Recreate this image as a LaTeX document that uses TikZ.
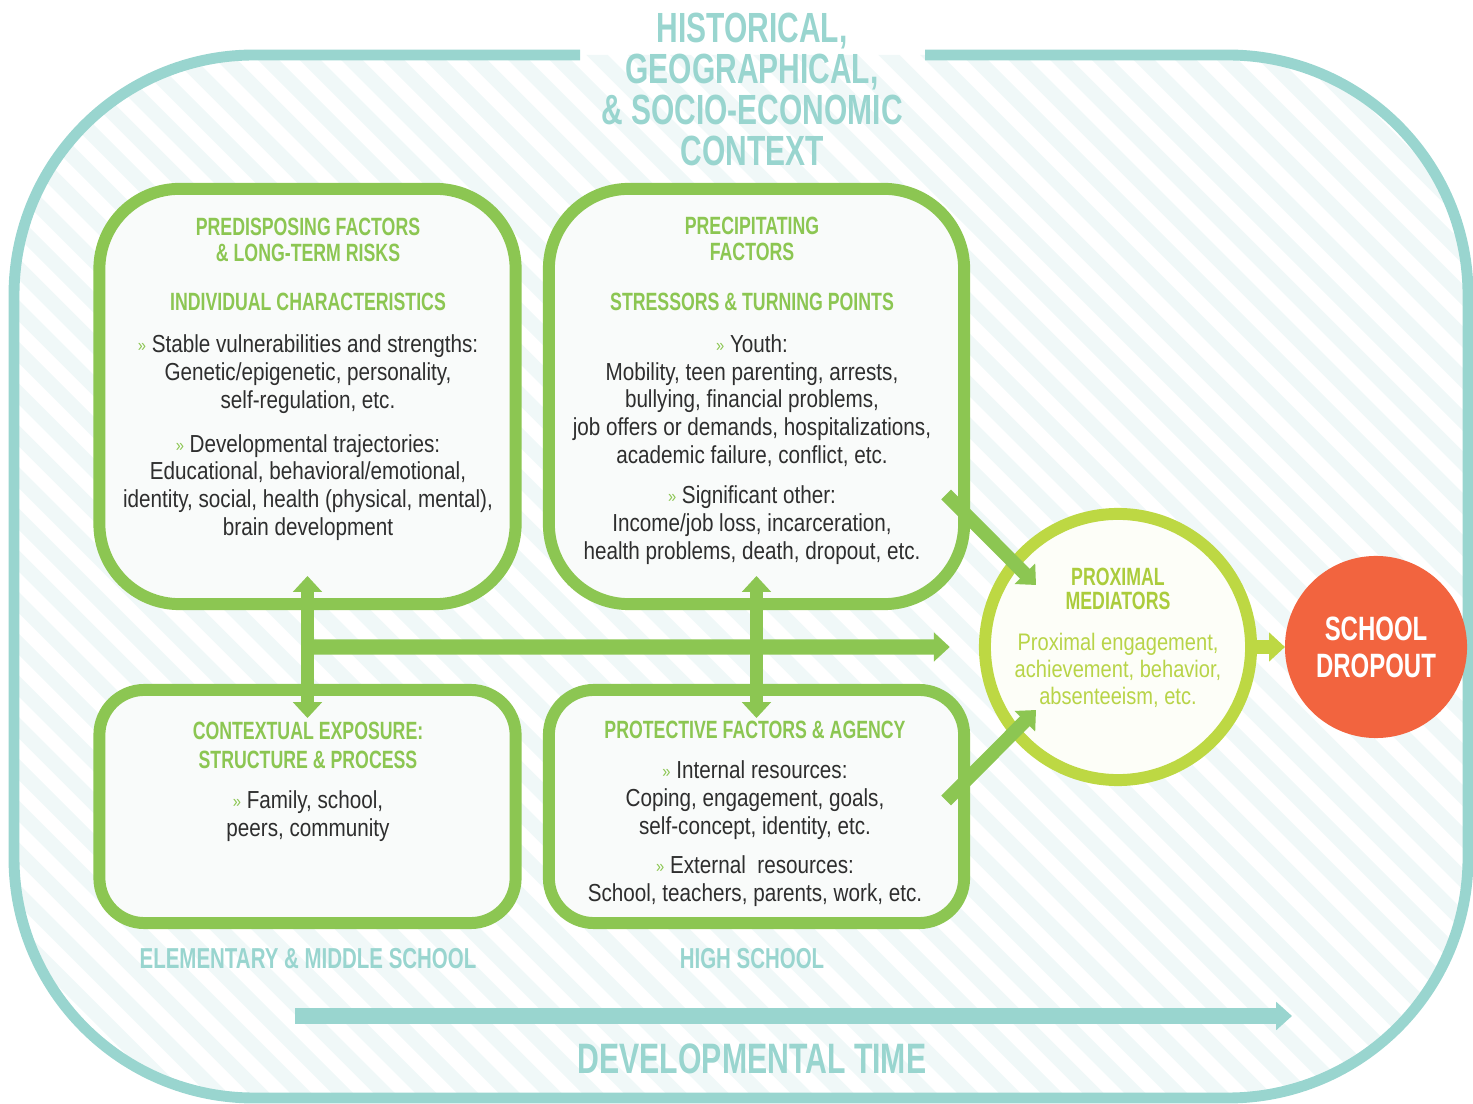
\documentclass[tikz,border=0pt]{standalone}
\usepackage{fontspec}
\setmainfont{Liberation Sans}[FakeStretch=0.84]
\newfontfamily\headfont{Liberation Sans}[FakeStretch=0.71]
\usetikzlibrary{arrows.meta,calc}
\definecolor{ctxteal}{HTML}{99D5CF}
\definecolor{stripe}{HTML}{F0F8F8}
\definecolor{boxgreen}{HTML}{8CC652}
\definecolor{boxfill}{HTML}{F9FBFA}
\definecolor{limering}{HTML}{BDD843}
\definecolor{limehead}{HTML}{ABCC3C}
\definecolor{limetext}{HTML}{B8D448}
\definecolor{proxfill}{HTML}{FDFEF8}
\definecolor{dropred}{HTML}{F2643F}
\definecolor{bodygray}{HTML}{2E2E2E}
\newcommand{\chev}{{\color{boxgreen}\fontsize{5}{5}\selectfont\raisebox{0.3pt}{»}}\ }
\tikzset{%
    >={Triangle[width=8pt,length=4.5pt]},
    box/.style={draw=boxgreen, line width=3.4pt, fill=boxfill, rounded corners=0.8cm,
        outer sep=0pt, inner sep=0pt, minimum width=4.16cm, minimum height=4.15cm},
    lowbox/.style={box, rounded corners=0.45cm, minimum height=2.33cm},
    head/.style={font=\headfont\bfseries\fontsize{7.1}{7.65}\selectfont, text=boxgreen,
        align=center, anchor=base, inner sep=0pt},
    body/.style={font=\fontsize{7}{7.9}\selectfont, text=bodygray, align=center,
        anchor=base, inner sep=0pt},
    greenarrow/.style={draw=boxgreen, line width=3.9pt},
    tealarrow/.style={draw=ctxteal, line width=4.5pt},
    stage/.style={font=\headfont\bfseries\fontsize{8.2}{9}\selectfont, text=ctxteal,
        anchor=base, inner sep=0pt}
}
\begin{document}
\begin{tikzpicture}[x=0.01cm, y=-0.01cm]
    \useasboundingbox (0,0) rectangle (1473,1104);

    % hatched context area
    \begin{scope}
        \clip[rounded corners=2.4cm] (14,55) rectangle (1468,1098);
        \foreach \i in {-30,...,36}
            \draw[stripe, line width=4.3pt] (\i*41.7,0) -- ++(1200,1200);
    \end{scope}
    \draw[ctxteal, line width=3.1pt, rounded corners=2.4cm]
        (580,55) -- (14,55) -- (14,1098) -- (1468,1098) -- (1468,55) -- (925,55);
    \node[font=\headfont\bfseries\fontsize{12}{11.7}\selectfont, text=ctxteal,
        align=center, anchor=base, inner sep=0pt] (contexttitle) at (752,166)
        {HISTORICAL,\\GEOGRAPHICAL,\\\& SOCIO-ECONOMIC\\CONTEXT};

    % the four boxes
    \node[box] (pred) at (307.5,396.5) {};
    \node[box, minimum width=4.15cm] (precip) at (756.5,396.5) {};
    \node[lowbox] (context) at (307.5,806.5) {};
    \node[lowbox, minimum width=4.15cm] (protect) at (756.5,806.5) {};

    \node[circle, draw=limering, line width=3.4pt, fill=proxfill, minimum size=2.66cm,
        inner sep=0pt, outer sep=0pt] (prox) at (1118,647) {};
    \node[circle, fill=dropred, minimum size=1.82cm, inner sep=0pt, outer sep=0pt,
        text=white, align=center, font=\headfont\bfseries\fontsize{9.6}{10.5}\selectfont]
        (dropout) at (1376,647) {SCHOOL\\DROPOUT};

    % arrows
    \draw[greenarrow, <->] ([yshift=8pt]pred.south) -- ([yshift=-8pt]context.north);
    \draw[greenarrow, <->] ([yshift=8pt]precip.south) -- ([yshift=-8pt]protect.north);
    \draw[greenarrow, line width=4.3pt, ->] ($(pred.south)!0.5!(context.north)$)
        -- ([xshift=-10pt]prox.west);
    \draw[greenarrow, ->] ($(precip.east)+(-18,98)$) -- ($(prox.center)+(-82,-62)$);
    \draw[greenarrow, ->] ($(protect.east)+(-18,-6)$) -- ($(prox.center)+(-82,63)$);
    \draw[draw=limering, line width=3.9pt, ->] (prox.east) -- (dropout.west);

    \coordinate (tstart) at (295,1016);
    \coordinate (tend) at (1292,1016);
    \draw[tealarrow, -{Triangle[width=7.8pt,length=4.5pt]}] (tstart) -- (tend);

    % texts
    \node[head] (predhead) at (308,262) {PREDISPOSING FACTORS\\\& LONG-TERM RISKS};
    \node[head] (predsub) at (308,311) {INDIVIDUAL CHARACTERISTICS};
    \node[body] (predstable) at (308,408.5)
        {\chev Stable vulnerabilities and strengths:\\Genetic/epigenetic, personality,\\self-regulation, etc.};
    \node[body] (predtraj) at (308,535.5)
        {\chev Developmental trajectories:\\Educational, behavioral/emotional,\\identity, social, health (physical, mental),\\brain development};

    \node[head] (prechead) at (752,261) {PRECIPITATING\\FACTORS};
    \node[head] (precsub) at (752,311) {STRESSORS \& TURNING POINTS};
    \node[body] (precyouth) at (752,463.5)
        {\chev Youth:\\Mobility, teen parenting, arrests,\\bullying, financial problems,\\job offers or demands, hospitalizations,\\academic failure, conflict, etc.};
    \node[body] (precother) at (752,559.5)
        {\chev Significant other:\\Income/job loss, incarceration,\\health problems, death, dropout, etc.};

    \node[head, font=\headfont\bfseries\fontsize{7.1}{8.2}\selectfont] (conthead) at (308,768)
        {CONTEXTUAL EXPOSURE:\\STRUCTURE \& PROCESS};
    \node[body] (contbody) at (308,836.5) {\chev Family, school,\\peers, community};

    \node[head] (prothead) at (755,739) {PROTECTIVE FACTORS \& AGENCY};
    \node[body] (protint) at (755,834.5)
        {\chev Internal resources:\\Coping, engagement, goals,\\self-concept, identity, etc.};
    \node[body] (protext) at (755,901.5)
        {\chev External~~resources:\\School, teachers, parents, work, etc.};

    \node[head, text=limehead, font=\headfont\bfseries\fontsize{7.1}{7.1}\selectfont] (proxhead)
        at (1118,610) {PROXIMAL\\MEDIATORS};
    \node[body, text=limetext, font=\fontsize{6.8}{7.65}\selectfont] (proxbody) at (1118,704.5)
        {Proximal engagement,\\achievement, behavior,\\absenteeism, etc.};

    \node[stage] (elemlabel) at (308,968.5) {ELEMENTARY \& MIDDLE SCHOOL};
    \node[stage] (highlabel) at (752,968.5) {HIGH SCHOOL};
    \node[stage, font=\headfont\bfseries\fontsize{12.1}{13}\selectfont] (timelabel)
        at (752,1073) {DEVELOPMENTAL TIME};
\end{tikzpicture}
\end{document}
